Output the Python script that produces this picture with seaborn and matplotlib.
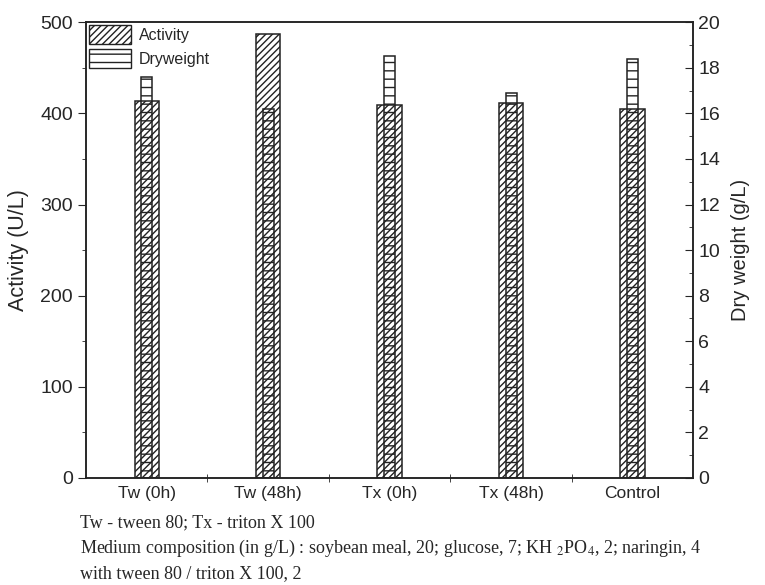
import numpy as np
import pandas as pd
import matplotlib
matplotlib.use("Agg")
import matplotlib.pyplot as plt
import seaborn as sns
from matplotlib.patches import Patch
from matplotlib.ticker import MultipleLocator, FixedLocator, NullFormatter

# data
conditions = ["Tw (0h)", "Tw (48h)", "Tx (0h)", "Tx (48h)", "Control"]
activity = [414, 487, 409, 411, 405]        # U/L
dryweight = [17.6, 16.2, 18.5, 16.9, 18.4]  # g/L

df = pd.DataFrame({"condition": conditions, "activity": activity, "dryweight": dryweight})

sns.set_style("ticks")
plt.rcParams["font.family"] = ["Liberation Sans", "DejaVu Sans"]
plt.rcParams["hatch.linewidth"] = 1.0
plt.rcParams["mathtext.fontset"] = "stix"

fig = plt.figure(figsize=(7.65, 5.85), dpi=100)
ax = fig.add_axes([0.1124, 0.183, 0.7938, 0.779])
ax2 = ax.twinx()

sns.barplot(data=df, x="condition", y="activity", ax=ax, width=0.2,
            fill=False, color="black", hatch="/////", linewidth=1.1)
sns.barplot(data=df, x="condition", y="dryweight", ax=ax2, width=0.09,
            fill=False, color="black", hatch="--", linewidth=1.1)

for a in (ax, ax2):
    for p in a.patches:
        p.set_edgecolor("#222222")

ax.set_xlim(-0.5, 4.5)
ax.set_ylim(0, 500)
ax2.set_ylim(0, 20)

ax.set_xlabel("")
ax.set_ylabel("Activity (U/L)", fontsize=15.5, labelpad=8)
ax2.set_ylabel("Dry weight (g/L)", fontsize=14.5, labelpad=8)

ax.yaxis.set_major_locator(MultipleLocator(100))
ax.yaxis.set_minor_locator(MultipleLocator(50))
ax2.yaxis.set_major_locator(MultipleLocator(2))
ax2.yaxis.set_minor_locator(MultipleLocator(1))
ax.tick_params(axis="y", labelsize=14, length=6, direction="out")
ax.tick_params(axis="y", which="minor", length=3, direction="out")
ax2.tick_params(axis="y", labelsize=14, length=6, direction="in")
ax2.tick_params(axis="y", which="minor", length=3, direction="in")

# category labels at centres, tick marks between categories
ax.set_xticks(range(len(conditions)))
ax.set_xticklabels(conditions, fontsize=12.5)
ax.tick_params(axis="x", which="major", length=0, pad=6)
ax.xaxis.set_minor_locator(FixedLocator([0.5, 1.5, 2.5, 3.5]))
ax.xaxis.set_minor_formatter(NullFormatter())
ax.tick_params(axis="x", which="minor", length=6, direction="inout")

for a in (ax, ax2):
    for s in a.spines.values():
        s.set_visible(True)
        s.set_linewidth(1.1)
        s.set_color("#222222")

handles = [Patch(facecolor="none", edgecolor="#222222", hatch="/////", label="Activity"),
           Patch(facecolor="none", edgecolor="#222222", hatch="--", label="Dryweight")]
ax2.legend(handles=handles, loc="upper left", frameon=False, fontsize=11.5,
           handlelength=2.6, handleheight=1.4, borderaxespad=0.1, borderpad=0.1,
           handletextpad=0.5, labelspacing=0.35)

note = ("Tw - tween 80; Tx - triton X 100\n"
        "Medium composition (in g/L) : soybean meal, 20; glucose, 7; KH $_2$PO$_4$, 2; naringin, 4\n"
        "with tween 80 / triton X 100, 2")
fig.text(0.105, 0.005, note, fontsize=13, family="Liberation Serif",
         ha="left", va="bottom", linespacing=1.45)

fig.savefig("out.png", dpi=100)
